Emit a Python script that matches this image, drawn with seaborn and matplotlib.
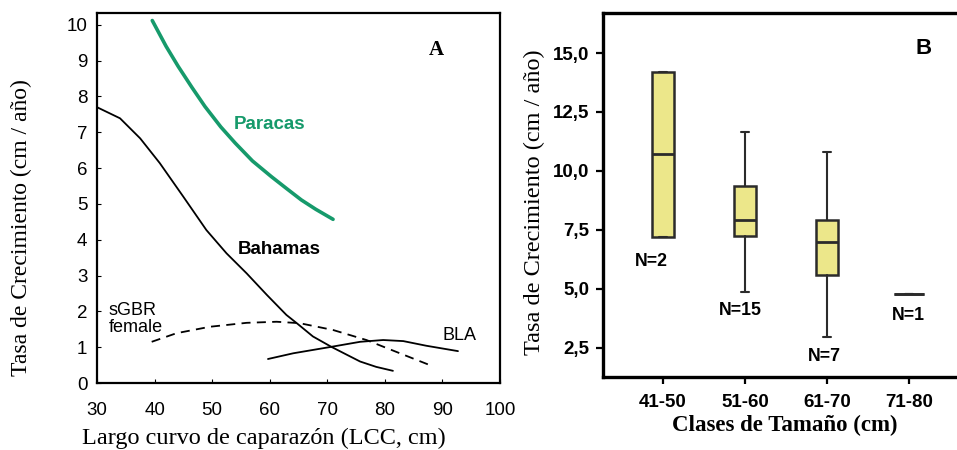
import numpy as np
import pandas as pd
import matplotlib
matplotlib.use("Agg")
import matplotlib.pyplot as plt
import seaborn as sns

# ---- Panel A: growth-rate curves vs curved carapace length ----
paracas_x = [39.6, 42.0, 44.1, 46.5, 48.75, 51.5, 54.0, 57.0, 60.3, 63.0, 65.5, 68.0, 71.0]
paracas_y = [10.12, 9.4, 8.84, 8.25, 7.72, 7.15, 6.7, 6.2, 5.76, 5.42, 5.11, 4.85, 4.57]

bahamas_x = [30.0, 34.0, 37.5, 40.9, 45.0, 49.0, 52.5, 56.0, 59.5, 62.9, 64.7, 67.5, 70.7, 73.5, 75.7, 78.5, 81.4]
bahamas_y = [7.7, 7.39, 6.83, 6.14, 5.2, 4.27, 3.62, 3.06, 2.46, 1.9, 1.67, 1.3, 1.01, 0.78, 0.6, 0.45, 0.34]

sgbr_x = [39.5, 43.8, 49.6, 56.0, 61.2, 65.2, 71.0, 76.8, 82.6, 87.8]
sgbr_y = [1.15, 1.39, 1.57, 1.68, 1.71, 1.67, 1.48, 1.2, 0.83, 0.5]

bla_x = [59.7, 64.1, 70.7, 75.7, 79.7, 83.2, 87.2, 92.7]
bla_y = [0.67, 0.83, 1.01, 1.15, 1.2, 1.17, 1.04, 0.89]

# ---- Panel B: box summaries by size class ----
size_classes = ["41-50", "51-60", "61-70", "71-80"]
n_obs = [2, 15, 7, 1]
q1 = [7.2, 7.25, 5.6, 4.77]
medians = [10.7, 7.93, 6.97, 4.77]
q3 = [14.2, 9.37, 7.93, 4.77]
whisker_low = [7.2, 4.86, 2.95, 4.77]
whisker_high = [14.2, 11.67, 10.78, 4.77]

sns.set_theme(style="ticks")
plt.rcParams["font.family"] = ["Liberation Sans", "DejaVu Sans"]
plt.rcParams.update({
    "axes.edgecolor": "black",
    "text.color": "black",
    "axes.labelcolor": "black",
    "xtick.color": "black",
    "ytick.color": "black",
})

fig = plt.figure(figsize=(9.57, 4.5), dpi=100)
W, H = 957, 450

def add_axes_px(x0, y0, x1, y1):
    return fig.add_axes([x0 / W, 1 - y1 / H, (x1 - x0) / W, (y1 - y0) / H])

serif = ["Liberation Serif", "DejaVu Serif"]

# ---------------- Panel A ----------------
axA = add_axes_px(97, 13, 500, 383)

green = "#169a6b"
frames = {
    "Paracas": pd.DataFrame({"x": paracas_x, "y": paracas_y}),
    "Bahamas": pd.DataFrame({"x": bahamas_x, "y": bahamas_y}),
    "sGBR": pd.DataFrame({"x": sgbr_x, "y": sgbr_y}),
    "BLA": pd.DataFrame({"x": bla_x, "y": bla_y}),
}
sns.lineplot(data=frames["Paracas"], x="x", y="y", ax=axA, color=green, lw=2.6, sort=False)
sns.lineplot(data=frames["Bahamas"], x="x", y="y", ax=axA, color="black", lw=1.3, sort=False)
sns.lineplot(data=frames["sGBR"], x="x", y="y", ax=axA, color="black", lw=1.3,
             sort=False, linestyle=(0, (5, 3.5)))
sns.lineplot(data=frames["BLA"], x="x", y="y", ax=axA, color="black", lw=1.3, sort=False)

axA.set_xlim(30, 100)
axA.set_ylim(0, 10.33)
axA.set_xticks(range(30, 101, 10))
axA.set_yticks(range(0, 11))
axA.tick_params(direction="in", length=3, width=0.8, labelsize=13.5, colors="black")
axA.tick_params(axis="y", pad=7)
axA.tick_params(axis="x", pad=14)
for s in axA.spines.values():
    s.set_linewidth(1.6)
    s.set_visible(True)

axA.text(60.0, 7.23, "Paracas", color=green, fontsize=13.5, fontweight="bold", ha="center", va="center")
axA.text(61.6, 3.74, "Bahamas", color="black", fontsize=13.5, fontweight="bold", ha="center", va="center")
axA.text(32.0, 1.79, "sGBR\nfemale", color="black", fontsize=13, ha="left", va="center", linespacing=1.0)
axA.text(93.0, 1.34, "BLA", color="black", fontsize=13, ha="center", va="center")
axA.text(89.0, 9.3, "A", fontsize=15, fontweight="bold", family=serif, ha="center", va="center")

axA.set_xlabel("Largo curvo de caparazón (LCC, cm)", family=serif, fontsize=17.5)
axA.set_ylabel("Tasa de Crecimiento (cm / año)", family=serif, fontsize=17)
axA.xaxis.set_label_coords(0.414, -0.122)
axA.xaxis.label.set_va("top")
axA.yaxis.set_label_coords(-0.161, 0.42)

# ---------------- Panel B ----------------
axB = add_axes_px(603, 13, 957, 377)

stats = []
for i in range(len(size_classes)):
    stats.append(dict(med=medians[i], q1=q1[i], q3=q3[i],
                      whislo=whisker_low[i], whishi=whisker_high[i],
                      fliers=[], label=size_classes[i]))

box_fill = "#ece78a"
edge = "#2b2b2b"
axB.bxp(stats, positions=list(range(len(size_classes))),
        widths=[0.26, 0.26, 0.26, 0.37], capwidths=0.1,
        patch_artist=True, showfliers=False,
        boxprops=dict(facecolor=box_fill, edgecolor=edge, linewidth=1.8),
        medianprops=dict(color=edge, linewidth=2.0),
        whiskerprops=dict(color=edge, linewidth=1.5),
        capprops=dict(color=edge, linewidth=1.5))

axB.set_xlim(-0.73, 3.585)
axB.set_ylim(1.25, 16.7)
axB.set_yticks([2.5, 5.0, 7.5, 10.0, 12.5, 15.0])
axB.set_yticklabels([f"{v:.1f}".replace(".", ",") for v in [2.5, 5.0, 7.5, 10.0, 12.5, 15.0]])
axB.set_xticks(range(len(size_classes)))
axB.set_xticklabels(size_classes)
axB.tick_params(axis="both", direction="out", length=5, width=1.6, colors="black", labelsize=13.5)
axB.tick_params(axis="x", pad=7)
axB.tick_params(axis="y", pad=5)
for lab in axB.get_xticklabels() + axB.get_yticklabels():
    lab.set_fontweight("bold")
for side in ["left", "bottom", "top"]:
    axB.spines[side].set_linewidth(2.4)
    axB.spines[side].set_visible(True)
axB.spines["right"].set_visible(False)

n_pos = [(-0.14, 6.14), (0.94, 4.09), (1.97, 2.13), (2.99, 3.87)]
for (x, y), n in zip(n_pos, n_obs):
    axB.text(x, y, f"N={n}", fontsize=12.8, fontweight="bold", ha="center", va="center")
axB.text(3.18, 15.2, "B", fontsize=16, fontweight="bold", ha="center", va="center")

axB.set_xlabel("Clases de Tamaño (cm)", family=serif, fontsize=16.5, fontweight="bold")
axB.set_ylabel("Tasa de Crecimiento (cm / año)", family=serif, fontsize=17.5)
axB.xaxis.set_label_coords(0.514, -0.104)
axB.xaxis.label.set_va("top")
axB.yaxis.set_label_coords(-0.164, 0.479)

fig.savefig("out.png", dpi=100)
